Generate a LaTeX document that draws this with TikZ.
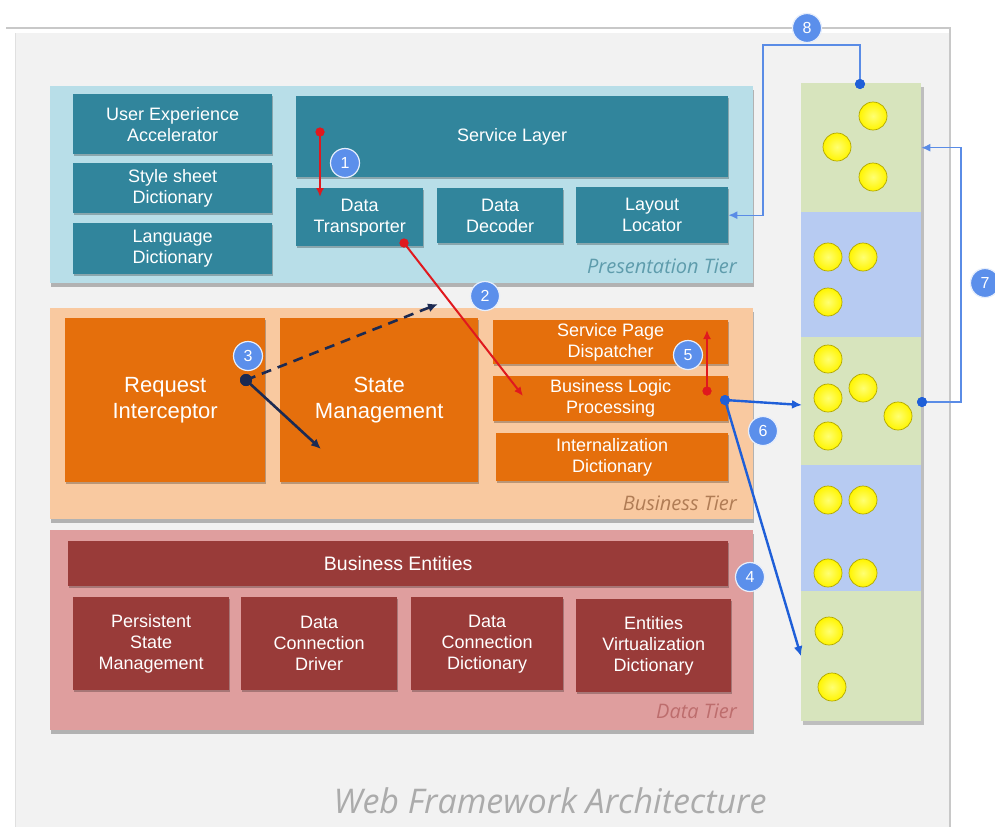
\documentclass[tikz,border=0pt]{standalone}
\usepackage{fontspec}
\setmainfont{Liberation Sans}
\newfontfamily\tierfont{Open Sans}
\usetikzlibrary{arrows.meta,shadows}

\definecolor{pagebg}{HTML}{F2F2F2}
\definecolor{framegray}{HTML}{C8C8C8}
\definecolor{presbg}{HTML}{B8DEE8}
\definecolor{tealbox}{HTML}{31859C}
\definecolor{busbg}{HTML}{F9C9A0}
\definecolor{orangebox}{HTML}{E56F0C}
\definecolor{databg}{HTML}{DF9E9E}
\definecolor{redbox}{HTML}{993B39}
\definecolor{seggreen}{HTML}{D7E4BD}
\definecolor{segblue}{HTML}{B7CBF2}
\definecolor{badgeblue}{HTML}{5B8FEB}
\definecolor{linkblue}{HTML}{1F5FD8}
\definecolor{thinblue}{HTML}{5A8CE6}
\definecolor{linkred}{HTML}{E0191E}
\definecolor{navy}{HTML}{1C2A52}
\definecolor{prestext}{HTML}{5E9CAC}
\definecolor{bustext}{HTML}{B07C55}
\definecolor{datatext}{HTML}{BD6D6D}
\definecolor{titlegray}{HTML}{ABABAB}

\begin{document}
\begin{tikzpicture}[x=1pt,y=-1pt,
  tier/.style={anchor=north west, inner sep=0pt, draw=none,
    drop shadow={shadow xshift=0.5pt, shadow yshift=-4pt, opacity=0.5, fill=black!55}},
  ibox/.style={anchor=north west, inner sep=0pt, align=center, text=white,
    font=\fontsize{18}{21}\selectfont,
    drop shadow={shadow xshift=1pt, shadow yshift=-1.5pt, opacity=0.25, fill=black}},
  tealb/.style={ibox, fill=tealbox},
  orangeb/.style={ibox, fill=orangebox},
  redb/.style={ibox, fill=redbox},
  seg/.style={anchor=north west, inner sep=0pt, minimum width=120pt},
  ydot/.style={circle, minimum size=28pt, inner sep=0pt, draw=olive!70!yellow, line width=0.7pt,
    inner color=yellow!55!white, outer color=yellow!92!orange},
  badge/.style={circle, minimum size=29pt, inner sep=0pt, fill=badgeblue, draw=white!85!badgeblue,
    line width=1.2pt, text=white, font=\fontsize{16}{16}\selectfont},
  tierlabel/.style={anchor=east, inner sep=0pt, font=\tierfont\itshape\fontsize{20}{20}\selectfont},
  reddot/.style={circle, fill=linkred, minimum size=9pt, inner sep=0pt},
  bluedot/.style={circle, fill=linkblue, minimum size=10pt, inner sep=0pt},
  navydot/.style={circle, fill=navy, minimum size=12pt, inner sep=0pt},
  redlink/.style={draw=linkred, line width=2pt, -{Latex[length=9pt,width=8pt]}},
  navylink/.style={draw=navy, line width=2.6pt, -{Latex[length=10pt,width=9pt]}},
  bluelink/.style={draw=linkblue, line width=2.4pt, -{Latex[length=10pt,width=9pt]}},
  thinlink/.style={draw=thinblue, line width=1.3pt, -{Latex[length=9pt,width=8pt]}}
]
\useasboundingbox (0,0) rectangle (995,827);

% page frame
\fill[white] (0,0) rectangle (995,827);
\fill[pagebg] (15,33) rectangle (950,827);
\draw[framegray, line width=1.2pt] (6,28) -- (950,28) -- (950,827);
\draw[black!12, line width=1pt] (15,33) -- (15,827);

% tiers
\node[tier, fill=presbg, minimum width=703pt, minimum height=197pt] (pres) at (50,86) {};
\node[tier, fill=busbg, minimum width=703pt, minimum height=211pt] (bus) at (50,308) {};
\node[tier, fill=databg, minimum width=703pt, minimum height=200pt] (data) at (50,530) {};

% presentation tier
\node[tealb, minimum width=199pt, minimum height=60pt] (uxa) at (73,94) {User Experience\\Accelerator};
\node[tealb, minimum width=199pt, minimum height=50pt] (ssd) at (73,163) {Style sheet\\Dictionary};
\node[tealb, minimum width=199pt, minimum height=51pt] (lgd) at (73,223) {Language\\Dictionary};
\node[tealb, minimum width=432pt, minimum height=81pt] (svc) at (296,96) {Service Layer};
\node[tealb, minimum width=127pt, minimum height=58pt] (dtr) at (296,188) {Data\\Transporter};
\node[tealb, minimum width=126pt, minimum height=55pt] (ddc) at (437,188) {Data\\Decoder};
\node[tealb, minimum width=152pt, minimum height=56pt] (llc) at (576,187) {Layout\\Locator};
\node[tierlabel, text=prestext] (prestxt) at (737,266) {Presentation Tier};

% business tier
\node[orangeb, minimum width=200pt, minimum height=164pt, font=\fontsize{22}{26}\selectfont] (rqi) at (65,318) {Request\\Interceptor};
\node[orangeb, minimum width=198pt, minimum height=164pt, font=\fontsize{22}{26}\selectfont] (stm) at (280,318) {State\\Management};
\node[orangeb, minimum width=235pt, minimum height=44pt] (spd) at (493,320) {Service Page\\Dispatcher};
\node[orangeb, minimum width=235pt, minimum height=45pt] (blp) at (493,376) {Business Logic\\Processing};
\node[orangeb, minimum width=232pt, minimum height=48pt] (itd) at (496,433) {Internalization\\Dictionary};
\node[tierlabel, text=bustext] (bustxt) at (737,503) {Business Tier};

% data tier
\node[redb, minimum width=660pt, minimum height=45pt, font=\fontsize{19.5}{22}\selectfont] (bent) at (68,541) {Business Entities};
\node[redb, minimum width=156pt, minimum height=93pt] (psm) at (73,597) {Persistent\\State\\Management};
\node[redb, minimum width=156pt, minimum height=93pt] (dcd) at (241,597) {Data\\Connection\\Driver};
\node[redb, minimum width=152pt, minimum height=93pt] (dcy) at (411,597) {Data\\Connection\\Dictionary};
\node[redb, minimum width=155pt, minimum height=93pt] (evd) at (576,599) {Entities\\Virtualization\\Dictionary};
\node[tierlabel, text=datatext] (datatxt) at (737,711) {Data Tier};

% right-hand column of segments
\fill[black!45, opacity=0.5] (803,87) rectangle (924,725);
\node[seg, fill=seggreen, minimum height=129pt] (s1) at (801,83) {};
\node[seg, fill=segblue, minimum height=125pt] (s2) at (801,212) {};
\node[seg, fill=seggreen, minimum height=128pt] (s3) at (801,337) {};
\node[seg, fill=segblue, minimum height=126pt] (s4) at (801,465) {};
\node[seg, fill=seggreen, minimum height=130pt] (s5) at (801,591) {};

% yellow items
\node[ydot] (y1) at (873,116) {};
\node[ydot] (y2) at (837,147) {};
\node[ydot] (y3) at (873,177) {};
\node[ydot] (y4) at (828,257) {};
\node[ydot] (y5) at (863,257) {};
\node[ydot] (y6) at (828,302) {};
\node[ydot] (y7) at (828,359) {};
\node[ydot] (y8) at (828,398) {};
\node[ydot] (y9) at (863,388) {};
\node[ydot] (y10) at (828,436) {};
\node[ydot] (y11) at (898,416) {};
\node[ydot] (y12) at (828,500) {};
\node[ydot] (y13) at (863,500) {};
\node[ydot] (y14) at (828,573) {};
\node[ydot] (y15) at (863,573) {};
\node[ydot] (y16) at (829,631) {};
\node[ydot] (y17) at (832,687) {};

% connector end points
\coordinate (t1) at (320,197);
\coordinate (t2) at (523,396);
\coordinate (t3a) at (438,304);
\coordinate (t3b) at (321,449);
\coordinate (t5) at (707,330);
\coordinate (t6) at (802,405);
\coordinate (k7) at (961,148);
\coordinate (k8) at (763,45);

% connector start dots
\node[reddot] (d1) at (320,132) {};
\node[reddot] (d2) at (404,243) {};
\node[navydot] (d3) at (246,380) {};
\node[reddot] (d5) at (707,391) {};
\node[bluedot] (d6) at (725,400) {};
\node[bluedot] (d7) at (922,402) {};
\node[bluedot] (d8) at (860,84) {};

% connectors
\draw[redlink] (d1.center) -- (t1);
\draw[redlink] (d2.center) -- (t2);
\draw[navylink, dash pattern=on 10pt off 7pt] (d3.center) -- (t3a);
\draw[navylink] (d3.center) -- (t3b);
\draw[redlink] (d5.center) -- (t5);
\draw[bluelink] (d6.center) -- (t6);
\draw[bluelink] (d6.center) -- (s5.west);
\draw[thinlink] (d7.center) -| (k7) |- (s1.east);
\draw[thinlink] (d8.center) |- (k8) |- (llc.east);

% redraw dots over line starts
\node[reddot] at (d1) {};
\node[reddot] at (d2) {};
\node[navydot] at (d3) {};
\node[reddot] at (d5) {};
\node[bluedot] at (d6) {};
\node[bluedot] at (d7) {};
\node[bluedot] at (d8) {};

% step badges
\node[badge] (b1) at (345,163) {1};
\node[badge] (b2) at (485,296) {2};
\node[badge] (b3) at (248,356) {3};
\node[badge] (b4) at (750,577) {4};
\node[badge] (b5) at (688,355) {5};
\node[badge] (b6) at (763,431) {6};
\node[badge] (b7) at (985,283) {7};
\node[badge] (b8) at (807,28) {8};

% title
\node[font=\tierfont\itshape\fontsize{34}{34}\selectfont, text=titlegray] (title) at (550,801) {Web Framework Architecture};
\end{tikzpicture}
\end{document}
